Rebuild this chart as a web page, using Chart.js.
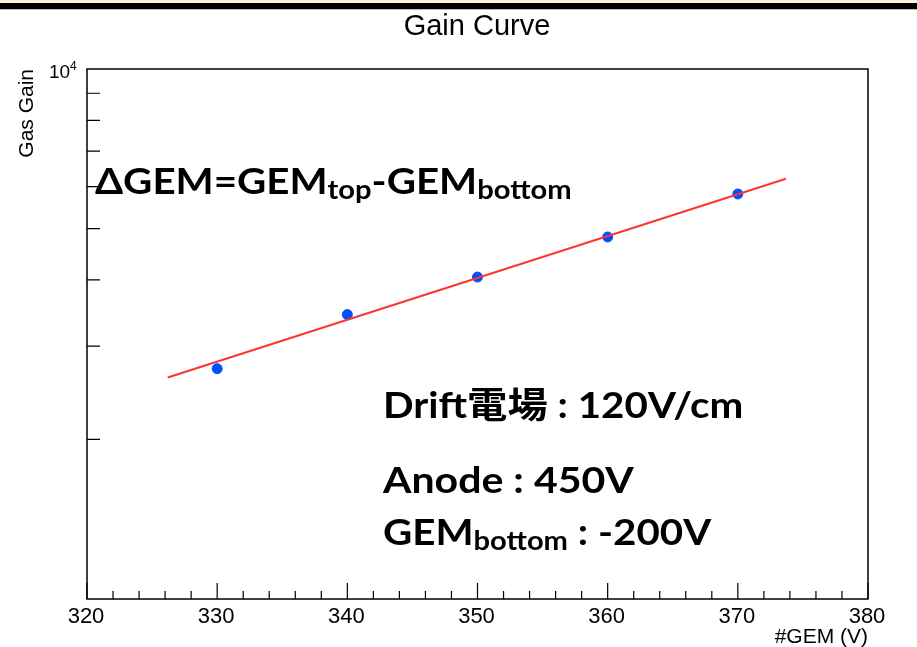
<!DOCTYPE html>
<html>
<head>
<meta charset="utf-8">
<script src="https://cdn.jsdelivr.net/npm/chart.js@4.4.1/dist/chart.umd.min.js"></script>
<style>
  html, body { margin: 0; padding: 0; background: #fff; }
  #wrap { position: relative; width: 917px; height: 647px; overflow: hidden; }
  #strip { position: absolute; left: 0; top: 0; width: 917px; height: 3px; background: #fbf1de; }
  #bar { position: absolute; left: 0; top: 3px; width: 917px; height: 6px; background: #000; }
  #edge { position: absolute; left: 0; top: 9px; width: 917px; height: 1px; background: #bbb; }
  canvas { position: absolute; left: 0; top: 0; }
</style>
</head>
<body>
<div id="wrap">
  <canvas id="gainChart" width="917" height="647"></canvas>
  <div id="strip"></div>
  <div id="bar"></div>
  <div id="edge"></div>
</div>
<script>
// measured points
const gemVoltage = [330, 340, 350, 360, 370];
const gasGain = [2720, 3440, 4050, 4820, 5810];

// exponential fit, drawn between its two end points
const fitVoltage = [326.2, 373.7];
const fitGain = [2618, 6206];

const xTicks = [320, 330, 340, 350, 360, 370, 380];
const xTickLabels = ["320", "330", "340", "350", "360", "370", "380"];
const yMinorTicks = [2000, 3000, 4000, 5000, 6000, 7000, 8000, 9000];

const sansFont = "'Liberation Sans', Arial, sans-serif";
const boldFont = "Lato, 'Noto Sans CJK JP', sans-serif";

// text with subscripts, stretched a bit to get the width of the original font
function richText(ctx, x, y, parts, stretch) {
  ctx.save();
  ctx.translate(x, y);
  ctx.scale(stretch, 1);
  let cx = 0;
  parts.forEach((p) => {
    ctx.font = "bold " + p.size + "px " + boldFont;
    ctx.fillText(p.t, cx, p.dy || 0);
    cx += ctx.measureText(p.t).width;
  });
  ctx.restore();
}

const rootFrame = {
  id: "rootFrame",
  afterDraw(chart) {
    const ctx = chart.ctx;
    const a = chart.chartArea;
    const xs = chart.scales.x;
    const ys = chart.scales.y;
    ctx.save();
    ctx.strokeStyle = "#000";
    ctx.fillStyle = "#000";
    ctx.lineWidth = 1.5;
    ctx.strokeRect(a.left, a.top, a.right - a.left, a.bottom - a.top);

    // ticks point inwards, like ROOT
    ctx.lineWidth = 1.2;
    ctx.beginPath();
    for (let v = 320; v <= 380; v += 2) {
      const px = xs.getPixelForValue(v);
      const len = v % 10 === 0 ? 16 : 8;
      ctx.moveTo(px, a.bottom);
      ctx.lineTo(px, a.bottom - len);
    }
    yMinorTicks.forEach((v) => {
      const py = ys.getPixelForValue(v);
      ctx.moveTo(a.left, py);
      ctx.lineTo(a.left + 13, py);
    });
    ctx.stroke();

    ctx.font = "22px " + sansFont;
    ctx.textAlign = "center";
    ctx.textBaseline = "alphabetic";
    xTicks.forEach((v, i) => {
      ctx.fillText(xTickLabels[i], xs.getPixelForValue(v) - 1, a.bottom + 24);
    });

    // 10^4 label
    const topY = ys.getPixelForValue(10000);
    ctx.textAlign = "left";
    ctx.font = "19px " + sansFont;
    ctx.fillText("10", 49, topY + 9);
    ctx.font = "12px " + sansFont;
    ctx.fillText("4", 70, topY + 1);

    // titles
    ctx.font = "29px " + sansFont;
    ctx.textAlign = "center";
    ctx.fillText("Gain Curve", 477, 35);
    ctx.font = "21px " + sansFont;
    ctx.textAlign = "right";
    ctx.fillText("#GEM (V)", a.right, 643);
    ctx.save();
    ctx.translate(33, a.top);
    ctx.rotate(-Math.PI / 2);
    ctx.fillText("Gas Gain", 0, 0);
    ctx.restore();

    // annotations
    ctx.textAlign = "left";
    richText(ctx, 95, 194, [
      { t: "ΔGEM=GEM", size: 36 },
      { t: "top", size: 26, dy: 5 },
      { t: "-GEM", size: 36 },
      { t: "bottom", size: 26, dy: 5 },
    ], 1.12);
    richText(ctx, 383, 418, [{ t: "Drift電場 : 120V/cm", size: 36 }], 1.12);
    richText(ctx, 383, 493, [{ t: "Anode : 450V", size: 36 }], 1.14);
    richText(ctx, 383, 545, [
      { t: "GEM", size: 36 },
      { t: "bottom", size: 26, dy: 5 },
      { t: " : -200V", size: 36 },
    ], 1.12);
    ctx.restore();
  },
};

const gainChart = new Chart(document.getElementById("gainChart"), {
  type: "scatter",
  data: {
    datasets: [
      {
        label: "fit",
        data: fitVoltage.map((v, i) => ({ x: v, y: fitGain[i] })),
        showLine: true,
        borderColor: "#ff3333",
        borderWidth: 2,
        pointRadius: 0,
      },
      {
        label: "Gas Gain",
        data: gemVoltage.map((v, i) => ({ x: v, y: gasGain[i] })),
        backgroundColor: "#0050ff",
        borderColor: "#0050ff",
        pointRadius: 5,
      },
    ],
  },
  options: {
    responsive: false,
    animation: false,
    devicePixelRatio: 1,
    layout: { padding: { left: 87, top: 69, right: 49, bottom: 48 } },
    plugins: { legend: { display: false }, tooltip: { enabled: false } },
    scales: {
      x: { type: "linear", min: 320, max: 380, display: false },
      y: { type: "logarithmic", min: 1000, max: 10000, display: false },
    },
  },
  plugins: [rootFrame],
});
</script>
</body>
</html>
